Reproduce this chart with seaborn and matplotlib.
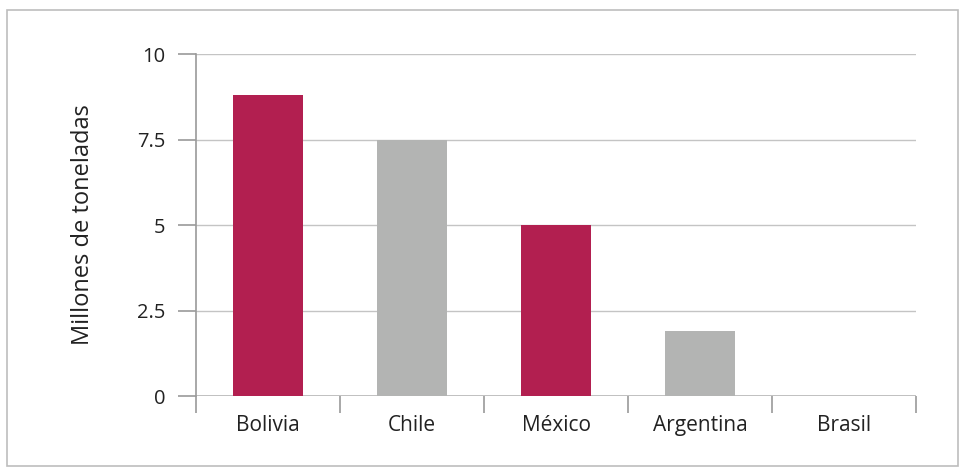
import matplotlib
matplotlib.use("Agg")
import matplotlib.pyplot as plt
import seaborn as sns
import pandas as pd
from matplotlib.patches import Rectangle

paises = ["Bolivia", "Chile", "México", "Argentina", "Brasil"]
valores = [8.8, 7.5, 5.0, 1.9, 0.0]
colores = ["#B21F50", "#B3B4B3", "#B21F50", "#B3B4B3", "#B21F50"]
yticks = [0, 2.5, 5, 7.5, 10]
ytick_labels = ["0", "2.5", "5", "7.5", "10"]
ylabel = "Millones de toneladas"

sns.set_theme(style="white")
plt.rcParams["font.family"] = ["Open Sans", "DejaVu Sans"]

df = pd.DataFrame({"pais": paises, "valor": valores})

fig = plt.figure(figsize=(9.66, 4.73), dpi=100)
ax = fig.add_axes([196/966, 1-396/473, 720/966, 342/473])

sns.barplot(data=df, x="pais", y="valor", hue="pais", palette=colores,
            width=0.49, legend=False, ax=ax, saturation=1, linewidth=0)

ax.set_ylim(0, 10)
ax.set_xlim(-0.5, len(paises) - 0.5)
ax.set_yticks(yticks)
ax.set_yticklabels(ytick_labels)
ax.yaxis.grid(True, color="#C4C4C4", linewidth=1)
ax.set_axisbelow(True)
for s in ["top", "right", "bottom"]:
    ax.spines[s].set_visible(False)
ax.spines["left"].set_color("#9A9A9A")
ax.spines["left"].set_linewidth(1.2)

ax.set_xticks([i for i in range(len(paises))])
ax.set_xticklabels(paises)
ax.set_xticks([i - 0.5 for i in range(len(paises) + 1)], minor=True)
ax.tick_params(axis="x", which="major", length=0, pad=14, labelsize=15,
               labelcolor="#222222", bottom=False)
ax.tick_params(axis="x", which="minor", length=12, width=1.2, color="#9A9A9A",
               direction="out", bottom=True)
ax.tick_params(axis="y", which="major", length=13, width=1.2, color="#9A9A9A", pad=9,
               labelsize=14.5, labelcolor="#222222", left=True)
ax.axhline(0, color="#B5B5B5", linewidth=1.2, zorder=0)

ax.set_xlabel("")
ax.set_ylabel(ylabel, fontsize=17, color="#222222", labelpad=30)

fig.patches.append(Rectangle((7/966, 1-466/473), 951/966, 456/473, transform=fig.transFigure,
                             fill=False, edgecolor="#BDBDBD", linewidth=1.2))

fig.savefig("out.png", dpi=100)
